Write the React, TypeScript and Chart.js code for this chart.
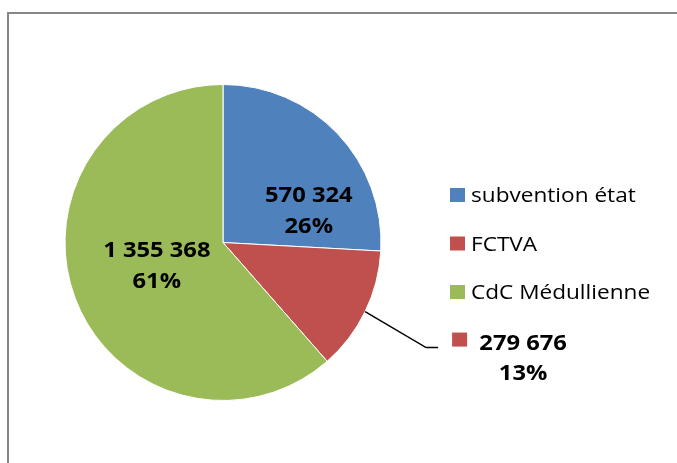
import React, { useEffect, useRef } from "react";
import { Chart, registerables } from "chart.js";

Chart.register(...registerables);

const categories = ["subvention état", "FCTVA", "CdC Médullienne"];
const amounts = [570324, 279676, 1355368];
const sliceColors = ["#4F81BD", "#C0504D", "#9BBB59"];

const fmt = (v: number) => v.toString().replace(/\B(?=(\d{3})+(?!\d))/g, " ");

const SX = 1.13;
function scaledText(ctx: CanvasRenderingContext2D, text: string, x: number, y: number, align: CanvasTextAlign) {
  ctx.save();
  ctx.translate(x, y);
  ctx.scale(SX, 1);
  ctx.textAlign = align;
  ctx.textBaseline = "alphabetic";
  ctx.fillText(text, 0, 0);
  ctx.restore();
}

const overlayPlugin = {
  id: "overlay",
  afterDraw(chart: any) {
    const ctx: CanvasRenderingContext2D = chart.ctx;
    const meta = chart.getDatasetMeta(0);
    const data: number[] = chart.data.datasets[0].data;
    const colors: string[] = chart.data.datasets[0].backgroundColor;
    const total = data.reduce((a, b) => a + b, 0);

    // frame
    ctx.save();
    ctx.strokeStyle = "#878787";
    ctx.lineWidth = 2;
    ctx.beginPath();
    ctx.moveTo(8, chart.height);
    ctx.lineTo(8, 13);
    ctx.lineTo(chart.width, 13);
    ctx.stroke();
    ctx.restore();

    // legend
    const lx = 450;
    const baselines = [202, 250.5, 299];
    ctx.save();
    ctx.font = "20px 'Open Sans'";
    ctx.fillStyle = "#000";
    (chart.data.labels as string[]).forEach((lab, i) => {
      ctx.fillStyle = colors[i];
      ctx.fillRect(lx, baselines[i] - 14, 15, 14);
      ctx.fillStyle = "#000";
      scaledText(ctx, lab, lx + 21, baselines[i], "left");
    });
    ctx.restore();

    // data labels
    ctx.save();
    ctx.font = "bold 21px 'Open Sans'";
    ctx.fillStyle = "#000";
    const inside: Record<number, [number, number]> = { 0: [0.543, -0.206], 2: [-0.419, 0.143] };
    meta.data.forEach((arc: any, i: number) => {
      const v = data[i];
      const pct = Math.round((v / total) * 100) + "%";
      const r = arc.outerRadius;
      if (inside[i]) {
        const cx = arc.x + inside[i][0] * r;
        const cy = arc.y + inside[i][1] * r;
        scaledText(ctx, fmt(v), cx, cy - 8, "center");
        scaledText(ctx, pct, cx, cy + 23, "center");
      } else {
        const mid = (arc.startAngle + arc.endAngle) / 2;
        const sx = arc.x + Math.cos(mid) * r;
        const sy = arc.y + Math.sin(mid) * r;
        const ex = sx + 61;
        const ey = sy + 36;
        ctx.save();
        ctx.strokeStyle = "#000";
        ctx.lineWidth = 1.5;
        ctx.beginPath();
        ctx.moveTo(sx, sy);
        ctx.lineTo(ex, ey);
        ctx.lineTo(ex + 12, ey);
        ctx.stroke();
        ctx.restore();
        const bx = ex + 12;
        ctx.fillStyle = colors[i];
        ctx.fillRect(bx + 14, ey - 15, 15, 14);
        ctx.fillStyle = "#000";
        scaledText(ctx, fmt(v), bx + 85, ey + 2, "center");
        scaledText(ctx, pct, bx + 85, ey + 32, "center");
      }
    });
    ctx.restore();
  },
};

export default function App() {
  const ref = useRef<HTMLCanvasElement | null>(null);
  useEffect(() => {
    if (!ref.current) return;
    const chart = new Chart(ref.current, {
      type: "pie",
      data: {
        labels: categories,
        datasets: [
          {
            data: amounts,
            backgroundColor: sliceColors,
            borderColor: "#ffffff",
            borderWidth: 1,
          },
        ],
      },
      options: {
        animation: false,
        responsive: false,
        devicePixelRatio: 1,
        radius: 158,
        layout: { padding: { left: 65, right: 296, top: 85, bottom: 63 } },
        plugins: { legend: { display: false }, tooltip: { enabled: false } },
      },
      plugins: [overlayPlugin],
    });
    return () => chart.destroy();
  }, []);
  return (
    <div style={{ position: "fixed", left: 0, top: 0, width: 677, height: 463, background: "#fff" }}>
      <canvas ref={ref} width={677} height={463} />
    </div>
  );
}
